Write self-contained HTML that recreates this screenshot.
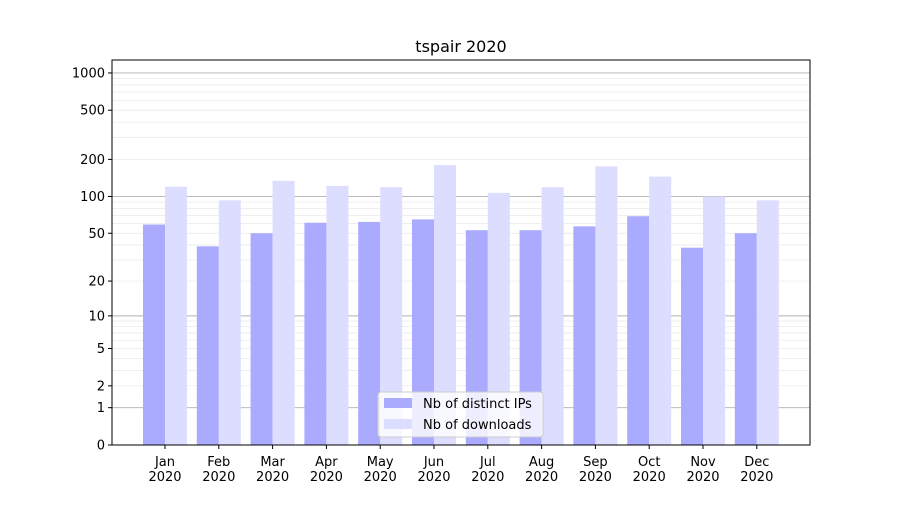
<!DOCTYPE html>
<html><head><meta charset="utf-8"><style>
body{margin:0;background:#fff;font-family:"Liberation Sans","DejaVu Sans",sans-serif}
svg text{font-family:"DejaVu Sans","Liberation Sans",sans-serif;font-size:13px;fill:#000}
</style></head><body>
<svg id="chart" width="900" height="500"></svg>
<script>
const months=["Jan","Feb","Mar","Apr","May","Jun","Jul","Aug","Sep","Oct","Nov","Dec"];
const ips=[59,39,50,61,62,65,53,53,57,69,38,50];
const downloads=[120,93,134,122,119,180,107,119,176,145,100,93];
const yTicks=[0,1,2,5,10,20,50,100,200,500,1000];
const NS="http://www.w3.org/2000/svg";
const svg=document.getElementById("chart");
const L=112,R=810,T=60,B=445,PX=124;
function y(v){return B-Math.log10(1+v)*PX;}
const step=53.8,x0=165;
function xc(i){return x0+i*step;}
function mk(t,a,p){const e=document.createElementNS(NS,t);for(const k in a)e.setAttribute(k,a[k]);(p||svg).appendChild(e);return e;}
// grid
for(let d=1;d<=1000;d*=10){for(let m=1;m<10;m++){const v=d*m;if(v>1100)break;const yy=y(v);if(yy<T)continue;
const major=(m===1);const g=mk("line",{x1:L,x2:R,y1:yy,y2:yy,stroke:major?"#b0b0b0":"#e8e8e8","stroke-width":major?0.9:0.7});

}}
// bars
months.forEach((m,i)=>{
const b1=mk("rect",{x:xc(i)-22,y:y(ips[i]),width:22,height:B-y(ips[i]),fill:"#aaaaff"});


const b2=mk("rect",{x:xc(i),y:y(downloads[i]),width:22,height:B-y(downloads[i]),fill:"#ddddff"});


mk("line",{x1:xc(i),x2:xc(i),y1:B,y2:B+4,stroke:"#000"});
const t=mk("text",{x:xc(i),y:B+21,"text-anchor":"middle"});t.textContent=m;


const t2=mk("text",{x:xc(i),y:B+36,"text-anchor":"middle"});t2.textContent="2020";


});
yTicks.forEach(v=>{const yy=y(v);mk("line",{x1:L-4,x2:L,y1:yy,y2:yy,stroke:"#000"});
const t=mk("text",{x:L-7,y:yy+4.5,"text-anchor":"end"});t.textContent=v;

});
const f=mk("rect",{x:L,y:T,width:R-L,height:B-T,fill:"none",stroke:"#000","stroke-width":1});


const ti=mk("text",{x:461,y:52,"text-anchor":"middle",style:"font-size:16px"});ti.textContent="tspair 2020";


// legend
const lg=mk("g",{});


mk("rect",{x:378,y:392,width:165,height:45,rx:3,fill:"#fff","fill-opacity":0.8,stroke:"#ccc"},lg);
mk("rect",{x:384,y:398,width:28,height:10,fill:"#aaaaff"},lg);
mk("rect",{x:384,y:419,width:28,height:10,fill:"#ddddff"},lg);
const l1=mk("text",{x:423,y:408},lg);l1.textContent="Nb of distinct IPs";


const l2=mk("text",{x:423,y:429},lg);l2.textContent="Nb of downloads";


</script>
</body></html>
